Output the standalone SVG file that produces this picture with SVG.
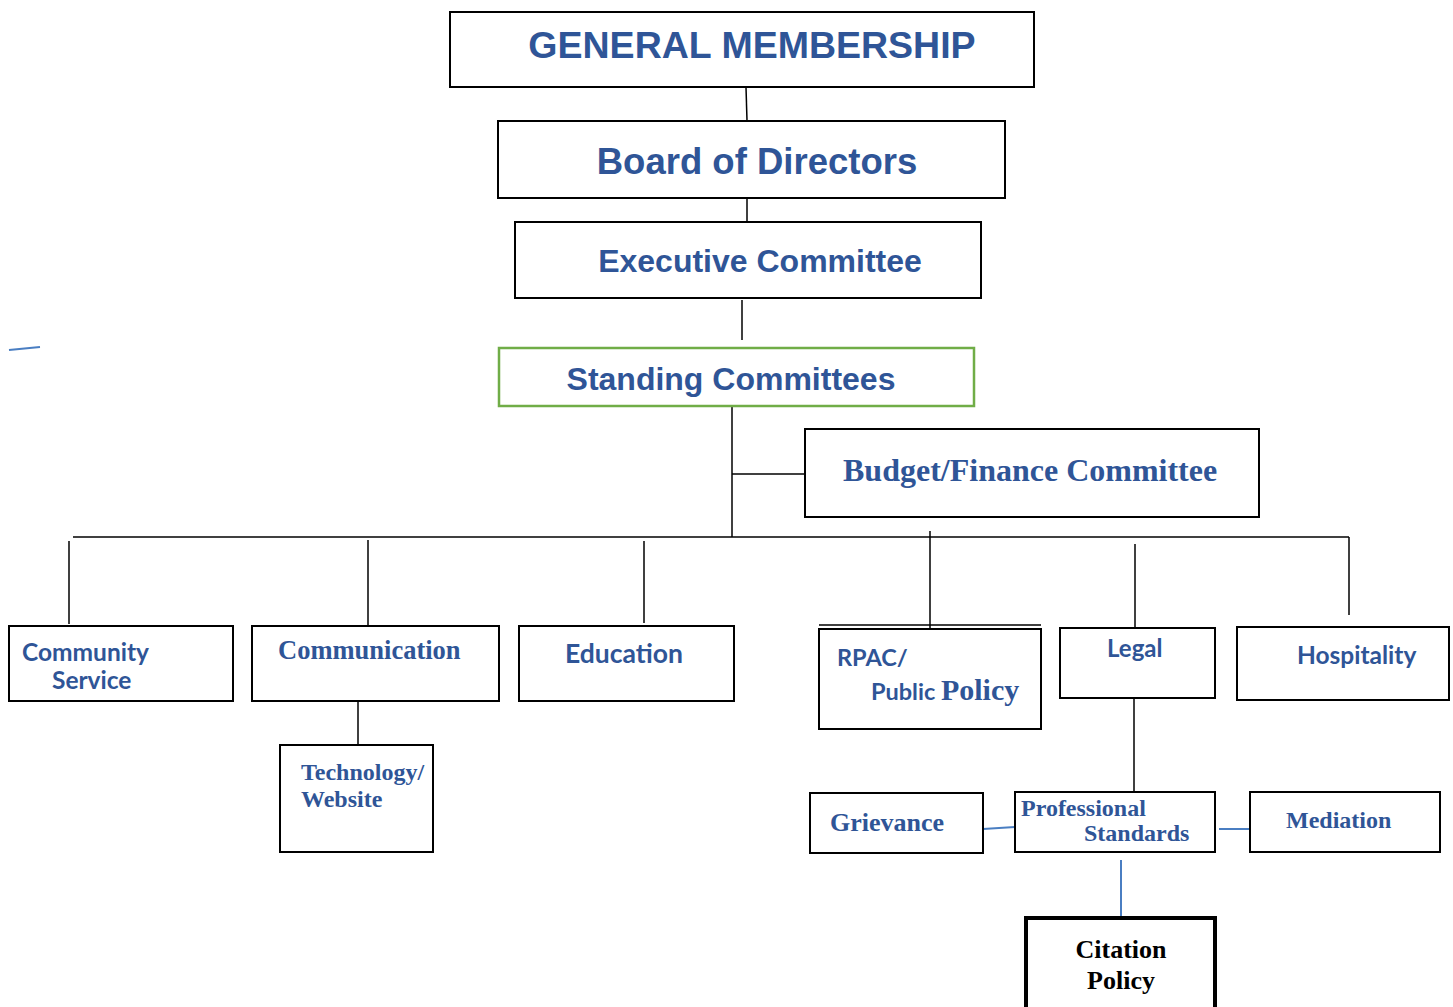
<svg xmlns="http://www.w3.org/2000/svg" width="1453" height="1007" viewBox="0 0 1453 1007">
<style>
.box{fill:#fff;stroke:#000;stroke-width:2}
.sans{font-family:"Liberation Sans",Arial,sans-serif;font-weight:bold;fill:#2F5597}
.cal{font-family:"Lato","Open Sans",sans-serif;font-weight:bold;fill:#2F5597}
.ser{font-family:"Liberation Serif","Times New Roman",serif;font-weight:bold;fill:#2F5597}
.ln{stroke:#000;stroke-width:1.5;fill:none}
.bl{stroke:#4A7EC2;stroke-width:2;fill:none}
</style>
<rect width="1453" height="1007" fill="#fff"/>
<g id="connectors">
<line class="ln" x1="746" y1="87" x2="747" y2="121"/>
<line class="ln" x1="747" y1="198" x2="747" y2="222"/>
<line class="ln" x1="742" y1="300" x2="742" y2="340"/>
<line class="ln" x1="732" y1="406" x2="732" y2="537"/>
<line class="ln" x1="732" y1="474" x2="805" y2="474"/>
<line class="ln" x1="73" y1="537" x2="1349" y2="537"/>
<line class="ln" x1="69" y1="541" x2="69" y2="624"/>
<line class="ln" x1="368" y1="540" x2="368" y2="626"/>
<line class="ln" x1="644" y1="541" x2="644" y2="623"/>
<line class="ln" x1="930" y1="531" x2="930" y2="628"/>
<line class="ln" x1="1135" y1="544" x2="1135" y2="628"/>
<line class="ln" x1="1349" y1="537" x2="1349" y2="615"/>
<line class="ln" x1="358" y1="701" x2="358" y2="745"/>
<line class="ln" x1="1134" y1="698" x2="1134" y2="792"/>
<line class="bl" x1="983" y1="829" x2="1015" y2="827"/>
<line class="bl" x1="1219" y1="829" x2="1250" y2="829"/>
<line class="bl" x1="1121" y1="860" x2="1121" y2="916"/>
<line class="bl" x1="9" y1="350" x2="40" y2="347"/>
</g>
<g id="general-membership">
<rect class="box" x="450" y="12" width="584" height="75"/>
<text class="sans" x="752" y="58" font-size="37.5" text-anchor="middle">GENERAL MEMBERSHIP</text>
</g>
<g id="board">
<rect class="box" x="498" y="121" width="507" height="77"/>
<text class="sans" x="757" y="174" font-size="36.5" text-anchor="middle">Board of Directors</text>
</g>
<g id="executive">
<rect class="box" x="515" y="222" width="466" height="76"/>
<text class="sans" x="760" y="272" font-size="32" text-anchor="middle">Executive Committee</text>
</g>
<g id="standing">
<rect x="499" y="348" width="475" height="58" fill="#fff" stroke="#70AD47" stroke-width="2.5"/>
<text class="sans" x="731" y="390" font-size="32" text-anchor="middle">Standing Committees</text>
</g>
<g id="budget">
<rect class="box" x="805" y="429" width="454" height="88"/>
<text class="ser" x="843" y="481" font-size="32">Budget/Finance Committee</text>
</g>
<g id="community">
<rect class="box" x="9" y="626" width="224" height="75"/>
<text class="cal" x="22" y="661" font-size="24.5">Community</text>
<text class="cal" x="52" y="689" font-size="24.5">Service</text>
</g>
<g id="communication">
<rect class="box" x="252" y="626" width="247" height="75"/>
<text class="ser" x="278" y="659" font-size="26.5">Communication</text>
</g>
<g id="education">
<rect class="box" x="519" y="626" width="215" height="75"/>
<text class="cal" x="565" y="663" font-size="26.5">Education</text>
</g>
<g id="rpac">
<line class="ln" x1="819" y1="625" x2="1041" y2="625"/>
<rect class="box" x="819" y="629" width="222" height="100"/>
<text class="cal" x="837" y="666" font-size="23.5">RPAC/</text>
<text x="871" y="700"><tspan class="cal" font-size="23.5">Public </tspan><tspan class="ser" font-size="30">Policy</tspan></text>
</g>
<g id="legal">
<rect class="box" x="1060" y="628" width="155" height="70"/>
<text class="cal" x="1107" y="657" font-size="24">Legal</text>
</g>
<g id="hospitality">
<rect class="box" x="1237" y="627" width="212" height="73"/>
<text class="cal" x="1297" y="664" font-size="24.5">Hospitality</text>
</g>
<g id="technology">
<rect class="box" x="280" y="745" width="153" height="107"/>
<text class="ser" x="301" y="780" font-size="24">Technology/</text>
<text class="ser" x="301" y="807" font-size="24">Website</text>
</g>
<g id="grievance">
<rect class="box" x="810" y="793" width="173" height="60"/>
<text class="ser" x="830" y="831" font-size="26">Grievance</text>
</g>
<g id="professional-standards">
<rect class="box" x="1015" y="792" width="200" height="60"/>
<text class="ser" x="1021" y="816" font-size="24">Professional</text>
<text class="ser" x="1084" y="841" font-size="24">Standards</text>
</g>
<g id="mediation">
<rect class="box" x="1250" y="792" width="190" height="60"/>
<text class="ser" x="1286" y="828" font-size="24">Mediation</text>
</g>
<g id="citation">
<rect x="1026" y="918" width="189" height="95" fill="#fff" stroke="#000" stroke-width="4"/>
<text x="1121" y="958" font-size="26" text-anchor="middle" font-family="'Liberation Serif','Times New Roman',serif" font-weight="bold" fill="#000">Citation</text>
<text x="1121" y="989" font-size="26" text-anchor="middle" font-family="'Liberation Serif','Times New Roman',serif" font-weight="bold" fill="#000">Policy</text>
</g>
</svg>
